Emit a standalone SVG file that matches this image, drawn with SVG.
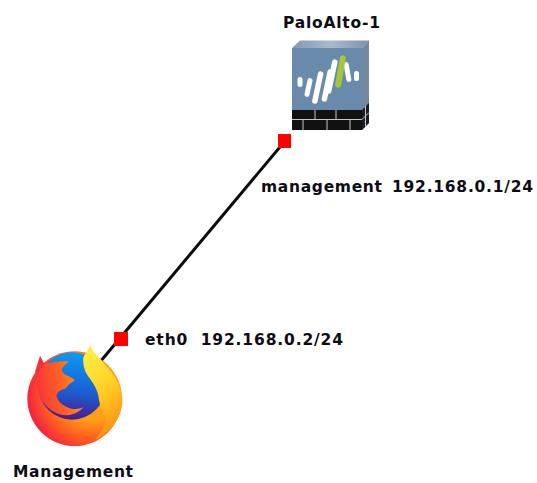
<svg xmlns="http://www.w3.org/2000/svg" width="537" height="483" viewBox="0 0 537 483">
<style>
text{font-family:"DejaVu Sans",sans-serif;font-weight:bold;font-size:15.500px;fill:#0c0c14}
.port{fill:#ff0000}
.bar{fill:#fff}
.mortar{stroke:#c4c8cc;stroke-width:1;fill:none}
</style>
<defs>
<linearGradient id="top" x1="0" x2="1" y1="0" y2="0"><stop offset="0" stop-color="#8099b4"/><stop offset="0.5" stop-color="#a9bacb"/><stop offset="1" stop-color="#7e93aa"/></linearGradient>
<radialGradient id="ring" cx="0.68" cy="0.42" r="0.75"><stop offset="0.4" stop-color="#ffa014"/><stop offset="0.68" stop-color="#ff5a22"/><stop offset="0.9" stop-color="#f4263e"/><stop offset="1" stop-color="#d81e78"/></radialGradient>
<linearGradient id="globe" x1="0.6" y1="0" x2="0.5" y2="1"><stop offset="0" stop-color="#0a9cf2"/><stop offset="0.6" stop-color="#1c5cd0"/><stop offset="1" stop-color="#4a1a8c"/></linearGradient>
<linearGradient id="tail" x1="0.2" y1="0" x2="0.55" y2="1"><stop offset="0" stop-color="#fff04a"/><stop offset="0.5" stop-color="#ffd224"/><stop offset="1" stop-color="#ff8e14"/></linearGradient>
<linearGradient id="fur" x1="0" y1="0.5" x2="1" y2="0.3"><stop offset="0" stop-color="#f8343a"/><stop offset="0.5" stop-color="#ff5f24"/><stop offset="1" stop-color="#ffa01c"/></linearGradient>
</defs>
<g id="connectors"><line x1="285" y1="141" x2="100" y2="362" stroke="#0c0c0c" stroke-width="3"/></g>
<g id="PaloAlto-1">
<polygon points="292,48 300,40.500 369,40.500 362,48" fill="url(#top)"/>
<polygon points="362,48 369,40.500 369,123 362,130" fill="#7288a0"/>
<rect x="292" y="48" width="70" height="63" fill="#6a8aac"/>
<rect x="292" y="110" width="70" height="20" fill="#111"/>
<polygon points="362,110 369,103 369,123 362,130" fill="#1a1c20"/>
<path class="mortar" d="M292 119.500H362M315 110V119.500M336 110V119.500M303 119.500V130M327 119.500V130M350 119.500V130M362 119.500L369 112.500M365.500 106V116M365.500 116V126.500"/>
<g class="bar">
<rect x="297.500" y="77" width="5" height="10" rx="2.500"/>
<rect x="306" y="78" width="5" height="19" rx="2.500" transform="rotate(12 308.500 87.500)"/>
<rect x="315" y="71" width="5.500" height="33" rx="2.700" transform="rotate(12 317.700 87.500)"/>
<rect x="324.500" y="69" width="5.500" height="33" rx="2.700" transform="rotate(12 327.200 85.500)"/>
<rect x="329" y="59" width="5.500" height="35" rx="2.700" transform="rotate(12 331.700 76.500)" />
<rect x="345" y="62" width="5" height="20" rx="2.500" transform="rotate(-10 347.500 72)"/>
<rect x="354" y="71" width="5" height="10" rx="2.500"/>
</g>
<rect x="337.500" y="55" width="6" height="33" rx="3" fill="#a4c639" transform="rotate(10 340.500 71.500)"/>
<text x="283" y="28" textLength="97" lengthAdjust="spacing">PaloAlto-1</text>
</g>
<g id="Management">
<g transform="translate(0 320) scale(0.33333)">
<circle cx="224" cy="236" r="142" fill="url(#ring)"/>
<path d="M105 155L120 107L135 135L125 165Z" fill="#f4303c"/>
<circle cx="216" cy="198" r="101" fill="url(#globe)"/>
<path d="M130 135C155 125 185 122 207 125C195 133 185 142 185 152C190 165 205 165 225 180C215 190 205 190 198 205C180 210 168 218 170 230C175 250 200 262 215 266C230 268 240 266 250 262C240 274 225 284 200 286C170 285 145 270 125 240C108 205 100 170 130 135Z" fill="url(#fur)"/>
<path d="M250 112L272 75C275 95 300 115 325 145C350 175 368 210 367 245C365 290 335 335 285 360C305 335 320 310 318 285C310 285 303 270 297 240C295 210 280 190 262 165C252 150 248 130 250 112Z" fill="url(#tail)"/>
</g>
<text x="13" y="477" textLength="120" lengthAdjust="spacing">Management</text>
</g>
<g id="port-management"><rect class="port" x="278" y="134" width="13" height="14"/><text y="192"><tspan x="261" textLength="121" lengthAdjust="spacing">management</tspan><tspan x="392" textLength="141" lengthAdjust="spacing">192.168.0.1/24</tspan></text></g>
<g id="port-eth0"><rect class="port" x="114" y="332" width="14" height="14"/><text x="145" y="345" textLength="198" lengthAdjust="spacing" xml:space="preserve">eth0  192.168.0.2/24</text></g>
</svg>
